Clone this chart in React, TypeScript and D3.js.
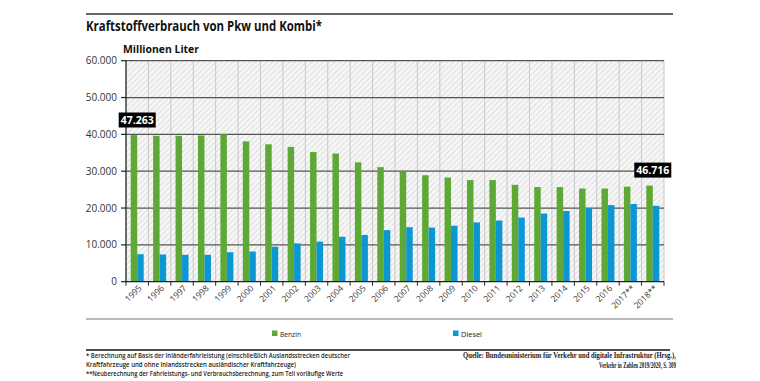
import React from "react";
import * as d3 from "d3";

const years = ["1995","1996","1997","1998","1999","2000","2001","2002","2003","2004","2005","2006","2007","2008","2009","2010","2011","2012","2013","2014","2015","2016","2017**","2018**"];
const benzin = [39.8,39.6,39.6,39.7,40.0,38.1,37.3,36.6,35.2,34.8,32.4,31.1,29.9,28.9,28.3,27.6,27.6,26.3,25.7,25.7,25.3,25.3,25.8,26.1].map(v => v * 1000);
const diesel = [7.46,7.4,7.3,7.3,8.0,8.2,9.5,10.4,10.9,12.2,12.7,14.0,14.8,14.7,15.2,16.1,16.6,17.4,18.5,19.2,20.0,20.8,21.1,20.6].map(v => v * 1000);
const yTicks = [0,10000,20000,30000,40000,50000,60000];
const annotations = [
  { year: "1995", label: "47.263", anchor: 43900 },
  { year: "2018**", label: "46.716", anchor: 30300 },
];
const seriesNames = ["Benzin", "Diesel"];
const colors = ["#5ea935", "#0c97d2"];
const footnotes = [
  { text: "* Berechnung auf Basis der Inländerfahrleistung (einschließlich Auslandsstrecken deutscher", w: 264 },
  { text: "Kraftfahrzeuge und ohne Inlandsstrecken ausländischer Kraftfahrzeuge)", w: 210 },
  { text: "**Neuberechnung der Fahrleistungs- und Verbrauchsberechnung, zum Teil vorläufige Werte", w: 257 },
];
const sources = [
  { text: "Quelle: Bundesministerium für Verkehr und digitale Infrastruktur (Hrsg.),", w: 213 },
  { text: "Verkehr in Zahlen 2019/2020, S. 309", w: 77 },
];

const fmt = (v: number) => (v === 0 ? "0" : d3.format(",")(v).replace(/,/g, "."));

export default function App() {
  const x = d3.scaleBand<string>().domain(years).range([126, 664]).padding(0);
  const y = d3.scaleLinear().domain([0, 60000]).range([281.7, 60.7]);
  const bw = 6.5;
  const sans = "'Open Sans', 'DejaVu Sans', sans-serif";
  const bw0 = x.bandwidth();

  return (
    <svg width={760} height={381} style={{ position: "fixed", left: 0, top: 0, background: "#fff" }} fontFamily={sans}>
      <defs>
        <pattern id="hatch" width={4} height={4} patternUnits="userSpaceOnUse" patternTransform="rotate(45)">
          <rect width={4} height={4} fill="#f6f6f6" />
          <line x1={0} y1={0} x2={0} y2={4} stroke="#d0d0d0" strokeWidth={1.2} />
        </pattern>
      </defs>

      {/* top rule & title */}
      <line x1={86} x2={673} y1={14} y2={14} stroke="#666" strokeWidth={2} />
      <text x={86} y={31} fontSize={15} fontWeight={700} fill="#111" textLength={236} lengthAdjust="spacingAndGlyphs">Kraftstoffverbrauch von Pkw und Kombi*</text>
      <text x={123} y={52.5} fontSize={10} fontWeight={700} fill="#111" textLength={76} lengthAdjust="spacingAndGlyphs">Millionen Liter</text>

      {/* plot background */}
      <rect x={126} y={y(60000)} width={664 - 126} height={y(0) - y(60000)} fill="url(#hatch)" />

      {/* vertical gridlines */}
      {years.map((yr, i) => i > 0 ? (
        <line key={"v" + yr} x1={x(yr)!} x2={x(yr)!} y1={y(60000)} y2={y(0)} stroke="#c8c8c8" strokeWidth={1} />
      ) : null)}
      <line x1={664} x2={664} y1={y(60000)} y2={y(0)} stroke="#c8c8c8" strokeWidth={1} />

      {/* horizontal gridlines */}
      {yTicks.filter(t => t > 0).map(t => (
        <line key={"h" + t} x1={126} x2={664} y1={y(t)} y2={y(t)} stroke="#555" strokeWidth={1.3} />
      ))}

      {/* bars */}
      {years.map((yr, i) => {
        const c = x(yr)! + bw0 / 2;
        return (
          <g key={"b" + yr}>
            <rect x={c - bw} y={y(benzin[i])} width={bw} height={y(0) - y(benzin[i])} fill={colors[0]} />
            <rect x={c} y={y(diesel[i])} width={bw} height={y(0) - y(diesel[i])} fill={colors[1]} />
          </g>
        );
      })}

      {/* y axis */}
      <line x1={126} x2={126} y1={y(60000)} y2={y(0)} stroke="#222" strokeWidth={1.3} />
      {yTicks.map(t => (
        <g key={"yt" + t}>
          <line x1={121} x2={126} y1={y(t)} y2={y(t)} stroke="#222" strokeWidth={1.2} />
          <text x={117} y={y(t) + 3.5} fontSize={10} textAnchor="end" fill="#333">{fmt(t)}</text>
        </g>
      ))}

      {/* x axis */}
      <line x1={126} x2={664} y1={y(0)} y2={y(0)} stroke="#222" strokeWidth={1.3} />
      {years.map(yr => (
        <line key={"xt" + yr} x1={x(yr)!} x2={x(yr)!} y1={y(0)} y2={y(0) + 4} stroke="#222" strokeWidth={1} />
      ))}
      <line x1={664} x2={664} y1={y(0)} y2={y(0) + 4} stroke="#222" strokeWidth={1} />
      {years.map(yr => {
        const c = x(yr)! + bw0 / 2 + 5;
        return (
          <text key={"xl" + yr} transform={`translate(${c},${y(0) + 7}) rotate(-45)`} fontSize={8.5} textAnchor="end" fill="#333">{yr}</text>
        );
      })}

      {/* annotations */}
      {annotations.map(a => {
        const c = x(a.year)! + bw0 / 2;
        const cy = y(a.anchor);
        return (
          <g key={"a" + a.label}>
            <rect x={c - 18.5} y={cy - 7.5} width={37} height={15} fill="#000" />
            <text x={c} y={cy + 3.8} fontSize={10.5} fontWeight={700} fill="#fff" textAnchor="middle">{a.label}</text>
          </g>
        );
      })}

      {/* line under x labels */}
      <line x1={86} x2={673} y1={319} y2={319} stroke="#777" strokeWidth={1.2} />

      {/* legend */}
      {seriesNames.map((s, i) => {
        const lx = i === 0 ? 272 : 453;
        return (
          <g key={"lg" + s}>
            <rect x={lx} y={330.5} width={5.5} height={5.5} fill={colors[i]} />
            <text x={lx + 8} y={336.5} fontSize={7.5} fill="#222" textLength={21} lengthAdjust="spacingAndGlyphs">{s}</text>
          </g>
        );
      })}

      {/* footer */}
      <line x1={86} x2={670} y1={350} y2={350} stroke="#111" strokeWidth={1.3} />
      {footnotes.map((f, i) => (
        <text key={"fn" + i} x={86} y={357.5 + i * 9.3} fontSize={7} fontWeight={600} fill="#222" textLength={f.w} lengthAdjust="spacingAndGlyphs">{f.text}</text>
      ))}
      {sources.map((s, i) => (
        <text key={"src" + i} x={676} y={357.5 + i * 10.5} fontSize={7.5} fontWeight={700} fill="#222" textAnchor="end" fontFamily="'Liberation Serif', 'DejaVu Serif', serif" textLength={s.w} lengthAdjust="spacingAndGlyphs">{s.text}</text>
      ))}
    </svg>
  );
}
